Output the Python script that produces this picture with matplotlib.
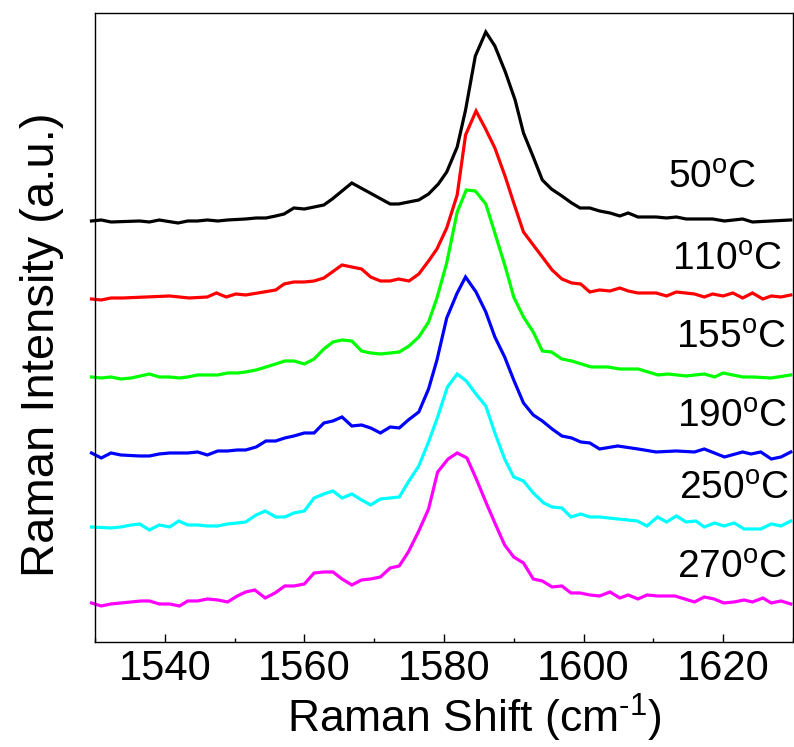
import matplotlib
matplotlib.use("Agg")
import matplotlib.pyplot as plt
from matplotlib.ticker import MultipleLocator

plt.rcParams['font.family'] = ['Liberation Sans', 'DejaVu Sans']
plt.rcParams['mathtext.fontset'] = 'custom'
plt.rcParams['mathtext.rm'] = 'Liberation Sans'
plt.rcParams['mathtext.it'] = 'Liberation Sans:italic'

# Dane, intensywnosc w j.u. wzgledem linii bazowej
x_50 = [1529.5, 1530.9, 1532.3, 1536.4, 1537.8, 1539.2, 1541.9, 1543.3, 1544.7, 1546.1,
        1547.6, 1549.0, 1551.6, 1553.1, 1554.5, 1555.9, 1557.1, 1558.5, 1560.0, 1562.8,
        1564.0, 1566.8, 1572.3, 1573.5, 1576.4, 1577.8, 1579.2, 1580.4, 1581.9, 1583.1,
        1584.5, 1586.0, 1587.3, 1588.8, 1590.2, 1591.4, 1592.8, 1594.1, 1595.4, 1596.9,
        1598.3, 1599.5, 1600.9, 1602.3, 1603.8, 1605.2, 1606.4, 1607.8, 1610.4, 1611.9,
        1613.3, 1614.7, 1618.5, 1620.2, 1622.8, 1624.2, 1626.9, 1629.7]
y_50 = [0, 1, -1, 0, -1, 1, -2, 0, 0, 1,
        0, 1, 2, 3, 3, 5, 7, 13, 12, 16,
        22, 38, 17, 17, 21, 27, 37, 49, 74, 111,
        165, 189, 175, 149, 121, 88, 64, 41, 32, 25,
        18, 13, 13, 10, 8, 5, 8, 4, 4, 3,
        4, 2, 2, 0, 2, -1, 0, 1]

x_110 = [1529.5, 1530.9, 1532.3, 1534.0, 1540.7, 1543.5, 1546.1, 1547.4, 1548.8, 1550.2,
         1551.6, 1554.2, 1555.9, 1557.1, 1558.5, 1560.0, 1561.4, 1562.8, 1565.4, 1568.2,
         1569.5, 1570.9, 1572.3, 1573.5, 1575.0, 1576.4, 1577.8, 1579.0, 1580.4, 1581.9,
         1583.1, 1584.6, 1585.9, 1587.3, 1588.8, 1590.1, 1591.4, 1592.8, 1594.1, 1595.5,
         1596.9, 1598.3, 1599.6, 1600.9, 1602.3, 1603.8, 1605.2, 1606.4, 1607.8, 1610.4,
         1611.9, 1613.3, 1615.9, 1617.3, 1618.5, 1620.0, 1621.4, 1622.8, 1624.2, 1625.7,
         1626.9, 1628.3, 1629.7]
y_110 = [0, -1, 1, 1, 3, 1, 2, 6, 2, 5,
         4, 7, 9, 15, 17, 17, 18, 21, 34, 30,
         22, 18, 18, 20, 18, 25, 38, 50, 71, 104,
         164, 188, 171, 151, 122, 94, 67, 54, 42, 29,
         20, 16, 15, 7, 9, 8, 11, 8, 6, 6,
         3, 7, 5, 2, 5, 3, 6, 1, 6, 0,
         3, 2, 4]

x_155 = [1529.5, 1530.9, 1532.3, 1533.7, 1535.2, 1537.8, 1539.2, 1540.7, 1542.1, 1543.3,
         1544.7, 1546.1, 1547.6, 1549.0, 1550.4, 1551.6, 1553.1, 1554.5, 1555.9, 1557.2,
         1558.5, 1560.0, 1561.4, 1562.8, 1564.1, 1565.4, 1566.8, 1568.2, 1569.5, 1570.9,
         1572.3, 1573.6, 1575.0, 1576.4, 1577.8, 1579.0, 1580.4, 1581.9, 1583.2, 1584.5,
         1586.0, 1587.3, 1588.8, 1590.0, 1591.4, 1592.8, 1594.1, 1595.4, 1596.9, 1598.3,
         1599.7, 1601.1, 1603.5, 1605.2, 1607.8, 1610.7, 1612.1, 1614.7, 1617.3, 1618.8,
         1620.0, 1622.8, 1624.2, 1626.9, 1629.7]
y_155 = [0, -1, 0, -2, -1, 3, 0, 0, -1, 0,
         2, 2, 2, 4, 4, 5, 7, 10, 13, 16,
         16, 13, 18, 28, 35, 37, 36, 26, 24, 23,
         24, 25, 31, 40, 55, 79, 114, 165, 187, 186,
         173, 144, 110, 80, 60, 45, 26, 25, 18, 16,
         13, 10, 10, 8, 8, 2, 3, 1, 3, 0,
         4, 0, 0, -1, 2]

x_190 = [1529.5, 1530.9, 1532.3, 1533.7, 1536.4, 1537.8, 1539.2, 1540.7, 1543.3, 1544.7,
         1546.1, 1547.6, 1549.0, 1550.4, 1551.6, 1553.1, 1554.5, 1555.9, 1557.2, 1558.5,
         1560.0, 1561.4, 1562.8, 1564.1, 1565.4, 1566.8, 1568.2, 1569.5, 1570.9, 1572.3,
         1573.6, 1574.9, 1576.4, 1577.8, 1579.0, 1580.4, 1581.9, 1583.1, 1584.6, 1586.0,
         1587.3, 1588.7, 1590.0, 1591.4, 1592.8, 1594.1, 1595.5, 1596.9, 1598.3, 1599.6,
         1600.9, 1602.3, 1604.9, 1607.8, 1610.4, 1613.3, 1615.9, 1617.3, 1620.2, 1622.8,
         1624.0, 1625.4, 1626.9, 1628.3, 1629.7]
y_190 = [1, -4, 1, -1, -2, -2, 0, 1, 1, 2,
         -1, 3, 3, 4, 4, 7, 13, 13, 16, 18,
         21, 21, 31, 33, 37, 28, 29, 26, 21, 27,
         26, 34, 42, 65, 94, 136, 161, 177, 162, 142,
         117, 97, 74, 51, 39, 33, 25, 18, 16, 12,
         11, 5, 8, 5, 2, 3, 2, 5, -3, 2,
         0, 2, -5, -3, 2]

x_250 = [1529.5, 1532.3, 1533.7, 1535.2, 1536.4, 1537.8, 1539.2, 1540.7, 1542.0, 1543.3,
         1544.7, 1546.1, 1547.6, 1549.0, 1550.4, 1551.6, 1553.1, 1554.4, 1555.9, 1557.2,
         1558.5, 1560.0, 1561.4, 1562.8, 1564.1, 1565.4, 1566.8, 1568.2, 1569.5, 1570.9,
         1572.3, 1573.6, 1574.9, 1576.4, 1577.8, 1579.1, 1580.5, 1581.9, 1583.2, 1584.7,
         1586.0, 1587.3, 1588.7, 1590.0, 1591.4, 1592.8, 1594.3, 1595.5, 1596.9, 1598.2,
         1599.6, 1600.9, 1602.3, 1604.9, 1607.7, 1609.1, 1610.6, 1611.9, 1613.3, 1614.7,
         1616.1, 1617.3, 1618.8, 1620.1, 1621.6, 1623.0, 1625.4, 1626.9, 1628.3, 1629.7]
y_250 = [0, -1, 0, 2, 3, -3, 2, 0, 6, 2,
         2, 1, 1, 3, 4, 5, 12, 16, 10, 10,
         14, 16, 29, 33, 36, 29, 33, 27, 22, 28,
         29, 30, 45, 61, 85, 110, 140, 153, 146, 132,
         121, 94, 68, 50, 46, 34, 24, 20, 19, 10,
         13, 10, 10, 8, 6, 1, 10, 5, 11, 5,
         6, 0, 4, 1, 4, -2, -2, 3, 1, 6]

x_270 = [1529.5, 1530.9, 1532.3, 1533.7, 1535.2, 1536.6, 1537.8, 1539.2, 1540.7, 1542.1,
         1543.3, 1544.7, 1546.1, 1547.6, 1549.0, 1550.4, 1551.6, 1552.9, 1554.4, 1555.8,
         1557.2, 1558.5, 1560.0, 1561.4, 1562.8, 1564.1, 1565.4, 1566.8, 1568.2, 1569.5,
         1570.9, 1572.3, 1573.6, 1574.9, 1576.4, 1577.8, 1579.1, 1580.6, 1581.9, 1583.3,
         1584.7, 1586.0, 1587.3, 1588.7, 1590.0, 1591.4, 1592.8, 1594.1, 1595.5, 1596.9,
         1598.2, 1599.5, 1600.9, 1602.3, 1603.8, 1605.2, 1606.4, 1607.8, 1609.1, 1610.6,
         1613.1, 1614.5, 1615.9, 1617.3, 1618.7, 1620.1, 1621.6, 1623.0, 1624.2, 1625.7,
         1626.9, 1628.3, 1629.7]
y_270 = [1, -2, 0, 1, 2, 3, 3, 0, 0, -2,
         3, 3, 5, 4, 2, 8, 12, 14, 6, 11,
         18, 18, 20, 31, 32, 32, 25, 19, 24, 25,
         27, 36, 38, 52, 73, 95, 132, 145, 151, 146,
         124, 102, 81, 59, 47, 41, 25, 23, 17, 18,
         11, 11, 9, 8, 12, 6, 9, 5, 9, 8,
         8, 5, 2, 7, 5, 1, 2, 4, 2, 6,
         1, 3, 0]

labels = ["50", "110", "155", "190", "250", "270"]
colors = ["black", "#ff0000", "#00ff00", "#0000ff", "#00ffff", "#ff00ff"]
offsets = [421, 343, 265, 188, 115, 38]
xs = [x_50, x_110, x_155, x_190, x_250, x_270]
ys = [y_50, y_110, y_155, y_190, y_250, y_270]

# pozycje podpisow (x prawej krawedzi, y linii bazowej tekstu)
label_x = [1624.7, 1628.4, 1629.0, 1629.2, 1629.4, 1629.2]
label_y = [454, 372, 294, 215, 143, 64]

fig = plt.figure(figsize=(7.94, 7.47), dpi=100)
ax = fig.add_axes([0.1196, 0.1406, 0.879, 0.842])

for x, y, off, c in zip(xs, ys, offsets, colors):
    ax.plot(x, [v + off for v in y], color=c, linewidth=2.3, clip_on=False,
            solid_joinstyle='miter')

for lab, lx, ly in zip(labels, label_x, label_y):
    ax.text(lx, ly, lab + r'$^{\mathrm{o}}$C', fontsize=28, ha='right', va='baseline')

ax.set_xlim(1530, 1630)
ax.set_ylim(0, 629)
ax.xaxis.set_minor_locator(MultipleLocator(10))
ax.set_xticks([1540, 1560, 1580, 1600, 1620])
ax.set_yticks([])
ax.tick_params(axis='x', which='major', direction='in', length=6, width=1,
               labelsize=30, pad=5)
ax.tick_params(axis='x', which='minor', direction='in', length=3, width=1)
for sp in ax.spines.values():
    sp.set_linewidth(1.0)

ax.set_xlabel(r'Raman Shift (cm$^{\text{-1}}$)', fontsize=32)
ax.set_ylabel('Raman Intensity (a.u.)', fontsize=34)
ax.xaxis.set_label_coords(0.544, -0.080)
ax.yaxis.set_label_coords(-0.045, 0.472)

fig.savefig("out.png", dpi=100)
